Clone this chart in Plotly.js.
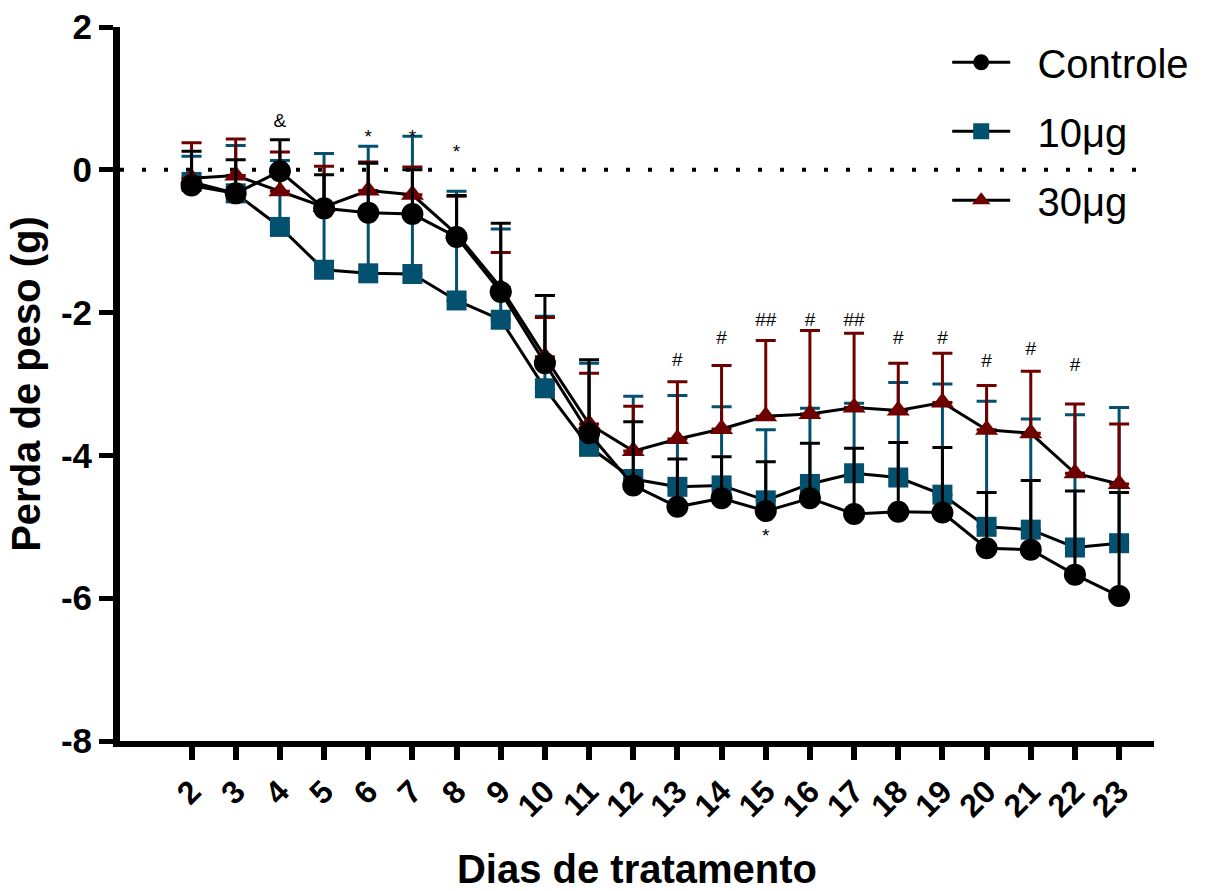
<!DOCTYPE html>
<html>
<head>
<meta charset="utf-8">
<script src="https://cdn.plot.ly/plotly-3.0.1.min.js"></script>
<style>html,body{margin:0;padding:0;background:#fff;}#chart{width:1206px;height:891px;}</style>
</head>
<body>
<div id="chart"></div>
<script>
// Days of treatment
const days = [2,3,4,5,6,7,8,9,10,11,12,13,14,15,16,17,18,19,20,21,22,23];
const dayLabels = ['2','3','4','5','6','7','8','9','10','11','12','13','14','15','16','17','18','19','20','21','22','23'];
const yTickValues = [-8,-6,-4,-2,0,2];
const yTickLabels = ['-8','-6','-4','-2','0','2'];

// Mean weight change (g)
const controle = [-0.22,-0.33,-0.02,-0.54,-0.60,-0.62,-0.94,-1.71,-2.71,-3.69,-4.42,-4.72,-4.60,-4.78,-4.60,-4.82,-4.79,-4.80,-5.30,-5.32,-5.67,-5.97];
const dose10 = [-0.17,-0.33,-0.80,-1.40,-1.45,-1.46,-1.83,-2.10,-3.06,-3.88,-4.33,-4.44,-4.42,-4.63,-4.40,-4.25,-4.31,-4.55,-5.00,-5.04,-5.29,-5.23];
const dose30 = [-0.12,-0.08,-0.30,-0.52,-0.29,-0.35,-0.90,-1.65,-2.62,-3.56,-3.94,-3.77,-3.63,-3.45,-3.42,-3.33,-3.37,-3.26,-3.64,-3.69,-4.25,-4.40];

// Upper error (SEM)
const errControle = [0.48,0.47,0.44,0.47,0.69,0.62,0.58,0.96,0.95,1.03,0.89,0.67,0.58,0.69,0.77,0.92,0.97,0.91,0.78,0.97,1.17,1.45];
const err10 = [0.36,0.67,0.93,1.63,1.78,1.93,1.53,1.27,1.01,1.17,1.16,1.28,1.10,0.99,1.06,0.98,1.33,1.55,1.76,1.55,1.86,1.90];
const err30 = [0.50,0.51,0.55,0.57,0.40,0.39,0.53,0.49,0.55,0.71,0.63,0.80,0.89,1.06,1.17,1.04,0.66,0.69,0.62,0.87,0.97,0.84];

// Significance marks
const markLabels = ['&','*','*','*','*','#','#','##','#','##','#','#','#','#','#'];
const markDays   = [4,6,7,8,15,13,14,15,16,17,18,19,20,21,22];
const markValues = [0.66,0.44,0.44,0.23,-5.15,-2.68,-2.37,-2.12,-2.12,-2.12,-2.37,-2.37,-2.70,-2.53,-2.75];

const seriesNames = ['Controle','10\u03bcg','30\u03bcg'];

const noLower = days.map(() => 0);
const BLUE = '#03506f';
const RED = '#6e0000';
const FONT = 'Liberation Sans, Arial, sans-serif';
const PAD = '\u00a0\u00a0';

function series(name, y, err, color, symbol, size, rank) {
  return {
    type: 'scatter', mode: 'lines+markers', name: PAD + name, x: days, y: y,
    legendrank: rank, legendgroup: 'g' + rank,
    line: {color: '#000', width: 3},
    marker: {color: color, symbol: symbol, size: size, line: {width: 0}},
    error_y: {type: 'data', symmetric: false, array: err, arrayminus: noLower,
              color: color, thickness: 3, width: 10},
    cliponaxis: false
  };
}

const traces = [
  series(seriesNames[1], dose10, err10, BLUE, 'square', 20, 2),
  series(seriesNames[2], dose30, err30, RED, 'triangle-up', 20, 3),
  series(seriesNames[0], controle, errControle, '#000', 'circle', 22, 1),
  {
    type: 'scatter', mode: 'text', x: markDays, y: markValues, text: markLabels,
    textfont: {family: FONT, size: 19, color: '#000'},
    showlegend: false, hoverinfo: 'skip', cliponaxis: false
  }
];

const layout = {
  width: 1206, height: 891,
  margin: {l: 120, r: 46, t: 27, b: 150},
  paper_bgcolor: '#fff', plot_bgcolor: '#fff',
  font: {family: FONT, color: '#000'},
  showlegend: true,
  legend: {
    x: 0.80, y: 0.996, xanchor: 'left', yanchor: 'top',
    font: {family: FONT, size: 40, color: '#000'},
    tracegroupgap: 14, itemwidth: 58, bgcolor: 'rgba(0,0,0,0)'
  },
  xaxis: {
    range: [0.38, 23.79], tickvals: days, ticktext: dayLabels,
    tickangle: -45, ticks: 'outside', ticklen: 13, tickwidth: 6, tickcolor: '#000',
    showline: true, linewidth: 6, linecolor: '#000', showgrid: false, zeroline: false,
    tickfont: {family: FONT, size: 32, color: '#000', weight: 'bold'},
    title: {text: '<b>Dias de tratamento</b>', font: {family: FONT, size: 40, color: '#000'}, standoff: 36}
  },
  yaxis: {
    range: [-8, 2], tickvals: yTickValues, ticktext: yTickLabels,
    ticks: 'outside', ticklen: 14, tickwidth: 5, tickcolor: '#000',
    showline: true, linewidth: 7, linecolor: '#000', showgrid: false, zeroline: false,
    tickfont: {family: FONT, size: 35, color: '#000', weight: 'bold'},
    title: {text: '<b>Perda de peso (g)</b>', font: {family: FONT, size: 40, color: '#000'}, standoff: 10}
  },
  shapes: [{
    type: 'line', xref: 'paper', yref: 'y', x0: 0, x1: 1, y0: 0, y1: 0, layer: 'below',
    line: {color: '#000', width: 4, dash: '4px,18px'}
  }]
};

Plotly.newPlot('chart', traces, layout, {displayModeBar: false, staticPlot: true});
</script>
</body>
</html>
